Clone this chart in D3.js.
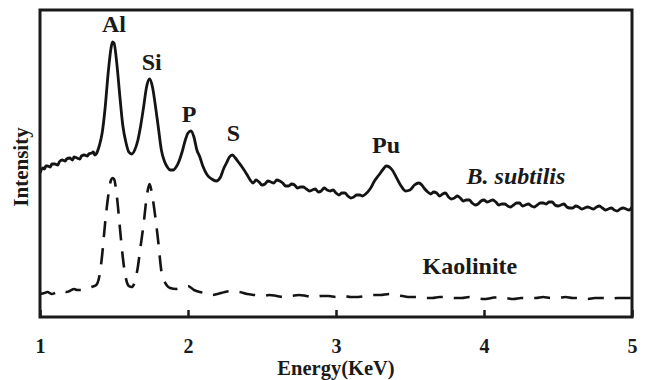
<!DOCTYPE html>
<html>
<head>
<meta charset="utf-8">
<script src="https://cdn.jsdelivr.net/npm/d3@7"></script>
<style>
  html, body { margin: 0; padding: 0; background: #fff; }
  svg { display: block; }
  text { font-family: "Liberation Serif", "Times New Roman", serif; font-weight: bold; fill: #1a1a1a; }
</style>
</head>
<body>
<svg id="chart"></svg>
<script>
// B. subtilis spectrum: [energy keV, intensity a.u.]
const subtilisSpectrum = [
  [1.00, 144], [1.02, 149], [1.03, 148], [1.04, 151], [1.05, 151], [1.07, 150], [1.08, 153],
  [1.10, 153], [1.12, 152], [1.13, 155], [1.15, 157], [1.17, 156], [1.18, 158], [1.20, 159],
  [1.22, 157], [1.23, 160], [1.25, 159], [1.27, 158], [1.28, 161], [1.30, 162], [1.32, 161],
  [1.33, 163], [1.35, 164], [1.36, 165], [1.37, 162], [1.38, 163],
  [1.40, 171], [1.42, 184], [1.44, 209], [1.46, 243], [1.48, 269], [1.49, 275], [1.50, 274],
  [1.52, 252], [1.54, 220], [1.56, 191], [1.58, 175], [1.60, 165], [1.62, 163], [1.64, 167],
  [1.66, 176], [1.68, 191], [1.70, 210], [1.72, 230], [1.74, 238], [1.76, 230], [1.78, 211],
  [1.80, 189], [1.82, 167], [1.84, 156], [1.86, 150], [1.88, 147], [1.90, 147], [1.92, 150],
  [1.94, 156], [1.96, 165], [1.98, 176], [2.00, 184], [2.02, 186], [2.04, 180], [2.06, 167],
  [2.08, 160], [2.10, 151], [2.13, 142], [2.16, 138], [2.19, 136], [2.22, 140], [2.24, 148],
  [2.26, 154], [2.28, 160], [2.30, 162], [2.32, 159], [2.34, 155], [2.37, 149], [2.40, 142],
  [2.42, 137], [2.44, 134], [2.46, 137], [2.48, 135], [2.50, 132], [2.52, 133], [2.54, 136],
  [2.56, 135], [2.58, 134], [2.60, 137], [2.62, 136], [2.64, 134], [2.66, 131], [2.68, 131],
  [2.70, 133], [2.72, 132], [2.74, 129], [2.76, 130], [2.78, 130], [2.80, 128], [2.82, 126],
  [2.84, 127], [2.86, 128], [2.88, 125], [2.90, 126], [2.92, 129], [2.94, 127], [2.96, 126],
  [2.98, 127], [3.00, 124], [3.02, 122], [3.04, 124], [3.06, 124], [3.08, 121], [3.10, 119],
  [3.12, 120], [3.14, 122], [3.16, 122], [3.18, 121], [3.20, 123],
  [3.23, 128], [3.26, 136], [3.29, 142], [3.32, 148], [3.34, 151], [3.36, 150], [3.38, 147],
  [3.41, 139], [3.44, 131], [3.47, 126], [3.50, 127], [3.53, 132], [3.56, 134], [3.58, 132],
  [3.60, 128], [3.62, 125], [3.64, 123], [3.66, 125], [3.68, 124], [3.70, 121], [3.72, 123],
  [3.74, 124], [3.76, 120], [3.78, 118], [3.80, 119], [3.82, 121], [3.84, 119], [3.86, 116],
  [3.88, 117], [3.90, 117], [3.92, 114], [3.94, 112], [3.96, 113], [3.98, 116], [4.00, 117],
  [4.02, 115], [4.04, 116], [4.06, 117], [4.08, 115], [4.10, 112], [4.12, 113], [4.14, 113],
  [4.16, 111], [4.18, 110], [4.20, 112], [4.22, 114], [4.24, 114], [4.26, 111], [4.28, 112],
  [4.30, 113], [4.32, 111], [4.34, 110], [4.36, 112], [4.38, 114], [4.40, 114], [4.42, 113],
  [4.44, 115], [4.46, 115], [4.48, 112], [4.50, 111], [4.52, 112], [4.54, 113], [4.56, 110],
  [4.58, 109], [4.60, 109], [4.62, 111], [4.64, 110], [4.66, 108], [4.68, 109], [4.70, 110],
  [4.72, 109], [4.74, 108], [4.76, 110], [4.78, 111], [4.80, 109], [4.82, 107], [4.84, 108],
  [4.86, 109], [4.88, 107], [4.90, 106], [4.92, 108], [4.94, 109], [4.96, 108], [4.98, 107],
  [5.00, 110]
];

// Kaolinite spectrum: [energy keV, intensity a.u.]
const kaoliniteSpectrum = [
  [1.00, 23], [1.03, 24], [1.05, 25], [1.08, 23], [1.10, 24], [1.13, 26], [1.15, 26],
  [1.18, 25], [1.20, 26], [1.23, 28], [1.25, 27], [1.28, 27], [1.30, 28], [1.33, 29],
  [1.35, 30], [1.38, 32], [1.40, 40], [1.42, 62], [1.44, 94], [1.46, 120], [1.48, 137],
  [1.49, 139], [1.50, 138], [1.52, 120], [1.54, 89], [1.56, 59], [1.58, 39], [1.60, 31],
  [1.62, 30], [1.64, 35], [1.66, 49], [1.68, 71], [1.70, 93], [1.72, 119], [1.74, 133],
  [1.76, 120], [1.78, 99], [1.80, 74], [1.82, 46], [1.84, 36], [1.86, 31], [1.88, 29],
  [1.92, 28], [1.96, 30], [2.00, 31], [2.04, 27], [2.08, 25], [2.12, 24], [2.16, 22],
  [2.20, 23], [2.25, 25], [2.30, 26], [2.35, 25], [2.40, 23], [2.45, 22], [2.50, 21],
  [2.55, 22], [2.60, 21], [2.65, 20], [2.70, 21], [2.75, 22], [2.80, 21], [2.85, 20],
  [2.90, 21], [2.95, 21], [3.00, 20], [3.05, 21], [3.10, 20], [3.15, 20], [3.20, 21],
  [3.25, 22], [3.30, 22], [3.36, 23], [3.40, 22], [3.45, 21], [3.50, 20], [3.55, 20],
  [3.60, 19], [3.65, 19], [3.70, 20], [3.75, 20], [3.80, 19], [3.85, 19], [3.90, 20],
  [3.95, 19], [4.00, 18], [4.05, 19], [4.10, 20], [4.15, 19], [4.20, 18], [4.25, 19],
  [4.30, 19], [4.35, 19], [4.40, 20], [4.45, 19], [4.50, 19], [4.55, 20], [4.60, 19],
  [4.65, 19], [4.70, 18], [4.75, 19], [4.80, 19], [4.85, 18], [4.90, 19], [4.95, 19],
  [5.00, 19]
];

// Axis ticks
const xTicks = [1, 2, 3, 4, 5];

// Element labels over the peaks
const peakNames = ["Al", "Si", "P", "S", "Pu"];
const peakEnergy = [1.50, 1.755, 2.007, 2.307, 3.338];
const peakLabelLevel = [285, 247, 195, 176, 164];

const width = 646;
const height = 380;
const margin = { top: 10, right: 14, bottom: 63, left: 40 };

const svg = d3.select("#chart").attr("width", width).attr("height", height);

const x = d3.scaleLinear().domain([1, 5]).range([margin.left, width - margin.right]);
const y = d3.scaleLinear().domain([0, 307]).range([height - margin.bottom, margin.top]);

const line = d3
  .line()
  .x((d) => x(d[0]))
  .y((d) => y(d[1]))
  .curve(d3.curveMonotoneX);

// Spectra
svg
  .append("path")
  .datum(subtilisSpectrum)
  .attr("d", line)
  .attr("fill", "none")
  .attr("stroke", "#141414")
  .attr("stroke-width", 2.8)
  .attr("stroke-linejoin", "round");

svg
  .append("path")
  .datum(kaoliniteSpectrum)
  .attr("d", line)
  .attr("fill", "none")
  .attr("stroke", "#141414")
  .attr("stroke-width", 2.6)
  .attr("stroke-dasharray", "16,11");

// Frame
svg
  .append("rect")
  .attr("x", x(1))
  .attr("y", y(307))
  .attr("width", x(5) - x(1))
  .attr("height", y(0) - y(307))
  .attr("fill", "none")
  .attr("stroke", "#1a1a1a")
  .attr("stroke-width", 3);

// Bottom axis with inward ticks
const xAxis = d3.axisBottom(x).tickValues(xTicks).tickSize(-7).tickPadding(22).tickFormat(d3.format("d"));
const gx = svg.append("g").attr("transform", `translate(0,${y(0)})`).call(xAxis);
gx.select(".domain").remove();
gx.selectAll(".tick line").attr("stroke", "#1a1a1a").attr("stroke-width", 2.5);
gx.selectAll(".tick text")
  .attr("font-size", 20)
  .attr("font-family", "Liberation Serif, serif")
  .attr("font-weight", "bold")
  .attr("fill", "#1a1a1a");

// Axis titles
svg
  .append("text")
  .attr("x", x(3))
  .attr("y", 375)
  .attr("text-anchor", "middle")
  .attr("font-size", 20.5)
  .text("Energy(KeV)");

svg
  .append("text")
  .attr("transform", `translate(28,${y(150)}) rotate(-90)`)
  .attr("text-anchor", "middle")
  .attr("font-size", 21)
  .text("Intensity");

// Peak labels
svg
  .selectAll(".peak-label")
  .data(peakNames)
  .enter()
  .append("text")
  .attr("class", "peak-label")
  .attr("x", (d, i) => x(peakEnergy[i]))
  .attr("y", (d, i) => y(peakLabelLevel[i]))
  .attr("text-anchor", "middle")
  .attr("font-size", 24)
  .text((d) => d);

// Series labels
svg
  .append("text")
  .attr("x", x(4.216))
  .attr("y", y(133))
  .attr("text-anchor", "middle")
  .attr("font-size", 24)
  .attr("font-style", "italic")
  .text("B. subtilis");

svg
  .append("text")
  .attr("x", x(3.905))
  .attr("y", y(43))
  .attr("text-anchor", "middle")
  .attr("font-size", 24)
  .text("Kaolinite");
</script>
</body>
</html>
